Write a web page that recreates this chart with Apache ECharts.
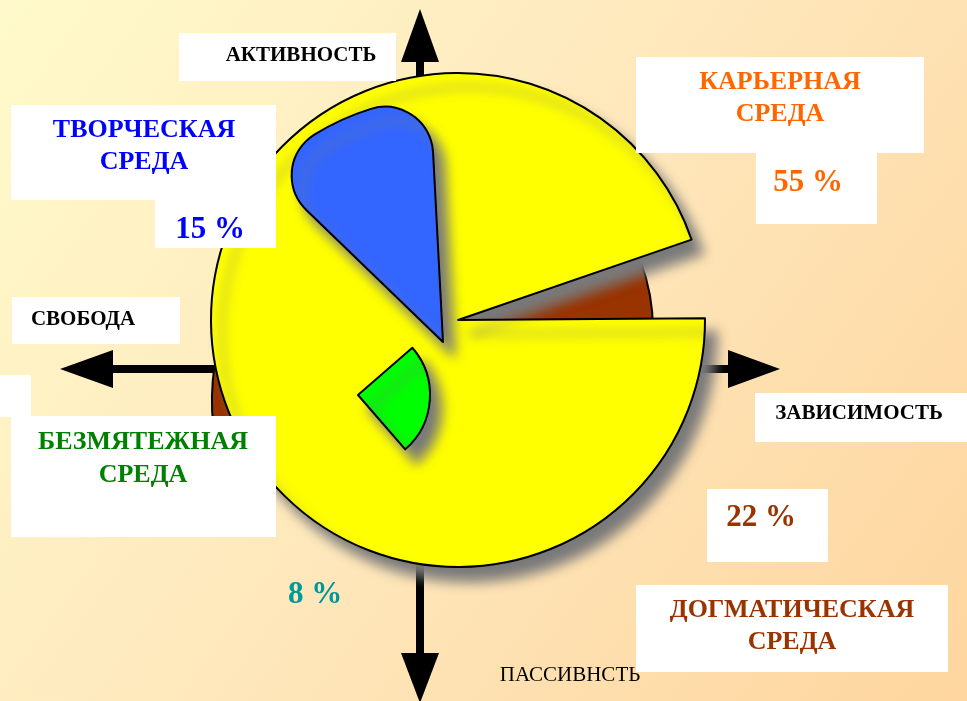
<!DOCTYPE html>
<html>
<head>
<meta charset="utf-8">
<script src="https://cdn.jsdelivr.net/npm/echarts@6/dist/echarts.min.js"></script>
<style>
  html, body { margin: 0; padding: 0; }
  #main { width: 967px; height: 701px; }
</style>
</head>
<body>
<div id="main"></div>
<script>
// среды и их доли, %
var names = ['КАРЬЕРНАЯ СРЕДА', 'ДОГМАТИЧЕСКАЯ СРЕДА', 'ТВОРЧЕСКАЯ СРЕДА', 'БЕЗМЯТЕЖНАЯ СРЕДА'];
var shares = [55, 22, 15, 8];
// подписи осей: верх, низ, лево, право
var axisNames = ['АКТИВНОСТЬ', 'ПАССИВНСТЬ', 'СВОБОДА', 'ЗАВИСИМОСТЬ'];

var sliceColors = ['#FFFF00', '#993300', '#3366FF', '#00FF00'];
var nameColors = ['#FF6600', '#993300', '#0000FF', '#008000'];
var pctColors = ['#FF6600', '#993300', '#0000FF', '#009999'];

var chart = echarts.init(document.getElementById('main'));

var FONT = '"Liberation Serif", "Times New Roman", serif';

// один сектор = отдельная серия pie (так проще раскладывать их слоями)
function sliceLayer(i, center, radius, start, end, shadow, corner) {
    return {
        type: 'pie',
        center: center,
        radius: radius,
        startAngle: start,
        endAngle: end,
        clockwise: true,
        silent: true,
        animation: false,
        label: { show: false },
        labelLine: { show: false },
        emphasis: { disabled: true },
        data: [{
            name: names[i],
            value: shares[i],
            itemStyle: {
                color: sliceColors[i],
                borderColor: '#000',
                borderWidth: 2,
                borderRadius: corner || 0,
                shadowColor: '#7a7a7a',
                shadowBlur: shadow ? 12 : 0,
                shadowOffsetX: shadow ? 11 : 0,
                shadowOffsetY: shadow ? 14 : 0
            }
        }]
    };
}

function box(x, y, w, h) {
    return { type: 'rect', silent: true, z: 100, shape: { x: x, y: y, width: w, height: h }, style: { fill: '#fff' } };
}

function txt(s, x, y, color, font, lh) {
    return {
        type: 'text', silent: true, z: 101, x: x, y: y,
        style: {
            text: s, fill: color, font: font, lineHeight: lh || 0,
            align: 'center', verticalAlign: 'middle',
            textAlign: 'center', textVerticalAlign: 'middle'
        }
    };
}

function twoLines(s) { return s.split(' ').join('\n'); }

var bold26 = 'bold 26px ' + FONT;
var bold21 = 'bold 21px ' + FONT;
var bold31 = 'bold 31px ' + FONT;

var arrows = [
    { type: 'rect', shape: { x: 416, y: 55, width: 8, height: 600 } },
    { type: 'polygon', shape: { points: [[401, 62], [439, 62], [420, 9]] } },
    { type: 'polygon', shape: { points: [[401, 653], [439, 653], [420, 703]] } },
    { type: 'rect', shape: { x: 105, y: 365, width: 630, height: 8 } },
    { type: 'polygon', shape: { points: [[113, 350], [113, 388], [60, 369]] } },
    { type: 'polygon', shape: { points: [[728, 350], [728, 388], [780, 369]] } }
];
arrows.forEach(function (a) { a.z = 1; a.silent = true; a.style = { fill: '#000' }; });

var labels = [
    box(179, 33, 217, 48), txt(axisNames[0], 301, 56, '#000', bold21),
    box(12, 297, 168, 47), txt(axisNames[2], 83, 320, '#000', bold21),
    box(755, 393, 212, 49), txt(axisNames[3], 859, 414, '#000', bold21),
    txt(axisNames[1], 570, 675, '#000', '21px ' + FONT),

    box(636, 57, 288, 96), txt(twoLines(names[0]), 780, 98, nameColors[0], bold26, 32),
    box(756, 153, 121, 71), txt(shares[0] + ' %', 808, 183, pctColors[0], bold31),

    box(11, 105, 265, 95), txt(twoLines(names[2]), 144, 146, nameColors[2], bold26, 32),
    box(155, 200, 121, 48), txt(shares[2] + ' %', 210, 230, pctColors[2], bold31),

    box(0, 375, 31, 42),
    box(11, 416, 265, 121), txt(twoLines(names[3]), 143, 459, nameColors[3], bold26, 33),
    txt(shares[3] + ' %', 315, 595, pctColors[3], bold31),

    box(707, 489, 121, 73), txt(shares[1] + ' %', 761, 518, pctColors[1], bold31),
    box(636, 585, 312, 87), txt(twoLines(names[1]), 792, 626, nameColors[1], bold26, 32)
];

var option = {
    backgroundColor: new echarts.graphic.LinearGradient(0, 0, 1, 1, [
        { offset: 0, color: '#FFFACB' },
        { offset: 0.5, color: '#FEE7BB' },
        { offset: 1, color: '#FED59E' }
    ]),
    animation: false,
    graphic: { elements: arrows.concat(labels) },
    series: [
        // догматическая: боковая грань слева и выдвинутая часть в вырезе
        sliceLayer(1, [452, 400], 240, 200, 172, false),
        sliceLayer(1, [457, 330], 196, 40, -40, false),
        // карьерная — основной диск
        sliceLayer(0, [458, 320], 247, 0.4, -341, true),
        // творческая
        sliceLayer(2, [443, 342], 244, 136, 93, true, [0, 48]),
        // безмятежная
        sliceLayer(3, [358, 395], 72, 41, -49, true)
    ]
};

chart.setOption(option);
</script>
</body>
</html>
